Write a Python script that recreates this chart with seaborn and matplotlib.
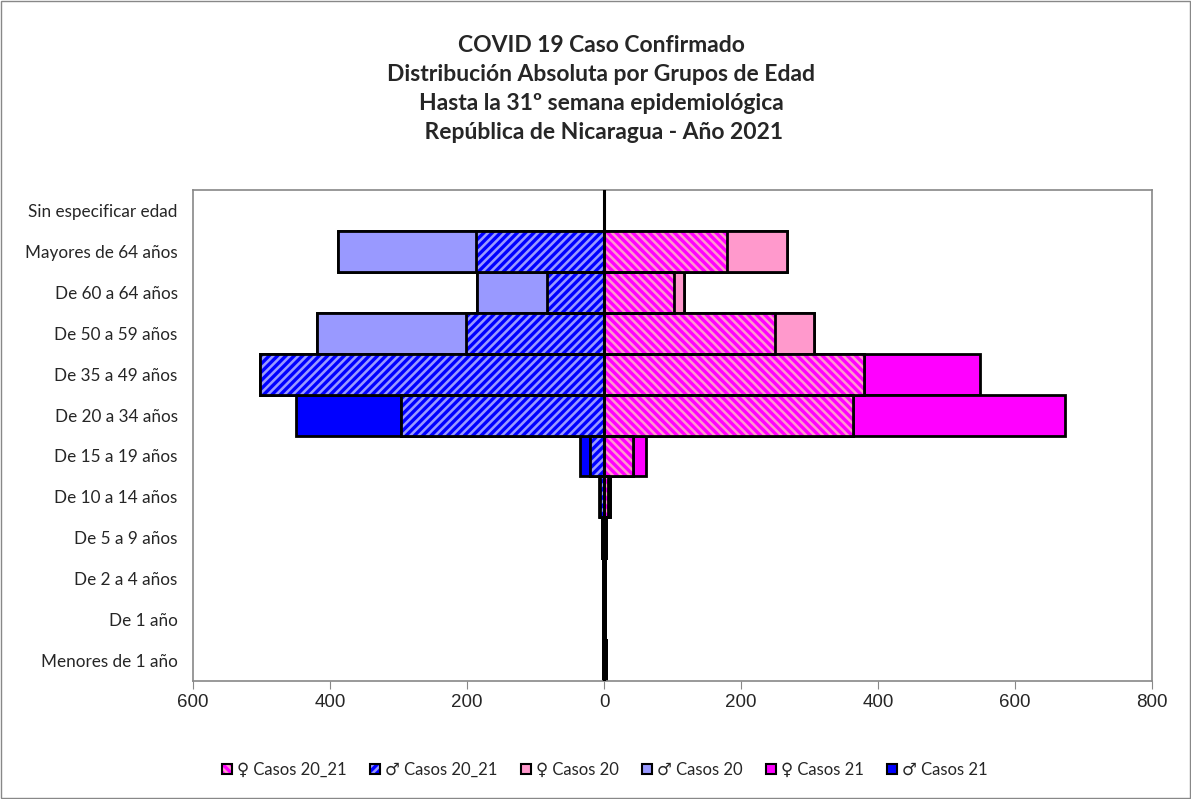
import matplotlib
matplotlib.use("Agg")
import matplotlib.pyplot as plt
import matplotlib.patches as mpatches
import seaborn as sns

age_groups = ["Sin especificar edad", "Mayores de 64 años", "De 60 a 64 años",
              "De 50 a 59 años", "De 35 a 49 años", "De 20 a 34 años",
              "De 15 a 19 años", "De 10 a 14 años", "De 5 a 9 años",
              "De 2 a 4 años", "De 1 año", "Menores de 1 año"]

# stacked segments (men drawn to the left)
fem_20_21 = [0, 179, 102, 250, 379, 363, 42, 6, 3, 2, 2, 3]
mas_20_21 = [0, 187, 83, 202, 502, 296, 21, 6, 3, 2, 1, 2]
fem_20 = [0, 88, 15, 56, 0, 0, 0, 3, 0, 0, 0, 0]
mas_20 = [0, 201, 102, 217, 0, 0, 0, 0, 0, 0, 0, 0]
fem_21 = [0, 0, 0, 0, 170, 310, 19, 0, 0, 0, 0, 0]
mas_21 = [0, 0, 0, 0, 0, 154, 14, 1, 0, 0, 0, 0]

xticks = [-600, -400, -200, 0, 200, 400, 600, 800]

PINK, MAGENTA = "#FF99CC", "#FF00FF"
LBLUE, BLUE = "#9999FF", "#0000FF"
HATCH_F, HATCH_M = "\\\\\\\\", "////"

sns.set_style("white")
plt.rcParams["hatch.linewidth"] = 2.4

fig = plt.figure(figsize=(11.91, 7.99), dpi=100)
ax = fig.add_axes([193 / 1191, 1 - 681 / 799, (1152 - 193) / 1191, (681 - 190) / 799])


def layer(vals, **props):
    n = len(ax.patches)
    sns.barplot(x=vals, y=age_groups, orient="h", width=1.0, errorbar=None,
                color="white", ax=ax)
    for p in ax.patches[n:]:
        p.set(**props)


def add(*lists):
    return [sum(v) for v in zip(*lists)]


for sign, h, c20, c21, light, dark, hatch in [
        (1, fem_20_21, fem_20, fem_21, PINK, MAGENTA, HATCH_F),
        (-1, mas_20_21, mas_20, mas_21, LBLUE, BLUE, HATCH_M)]:
    outer = [sign * v for v in add(h, c20, c21)]
    mid = [sign * v for v in add(h, c20)]
    inner = [sign * v for v in h]
    layer(outer, facecolor=dark, edgecolor="black", linewidth=2)
    layer(mid, facecolor=light, edgecolor="black", linewidth=2)
    layer(inner, facecolor=light, edgecolor=dark, hatch=hatch, linewidth=0)
    layer(inner, facecolor="none", edgecolor="black", linewidth=2)

ax.axvline(0, color="black", lw=2.2, zorder=5)
ax.set_xlim(-600, 800)
ax.set_xticks(xticks)
ax.set_xticklabels([str(abs(t)) for t in xticks], fontsize=13.5,
                   family="Liberation Sans")
ax.tick_params(axis="x", direction="out", length=6, color="#888888", bottom=True)
ax.tick_params(axis="y", length=0, pad=11)
for lab in ax.get_yticklabels():
    lab.set_fontfamily("Lato")
    lab.set_fontsize(12.3)
ax.set_xlabel("")
ax.set_ylabel("")
for s in ax.spines.values():
    s.set_color("#888888")
    s.set_linewidth(1.2)

titles = ["COVID 19 Caso Confirmado", "Distribución Absoluta por Grupos de Edad",
          "Hasta la 31º semana epidemiológica", " República de Nicaragua - Año 2021"]
for i, t in enumerate(titles):
    fig.text(0.505, 1 - (46 + 28.7 * i) / 799, t, ha="center", va="center",
             fontsize=16.5, fontweight="bold", family="Lato")

handles = [
    (mpatches.Patch(facecolor=PINK, edgecolor=MAGENTA, hatch=HATCH_F, lw=0),
     mpatches.Patch(facecolor="none", edgecolor="black", lw=1.5)),
    (mpatches.Patch(facecolor=LBLUE, edgecolor=BLUE, hatch=HATCH_M, lw=0),
     mpatches.Patch(facecolor="none", edgecolor="black", lw=1.5)),
    mpatches.Patch(facecolor=PINK, edgecolor="black", lw=1.5),
    mpatches.Patch(facecolor=LBLUE, edgecolor="black", lw=1.5),
    mpatches.Patch(facecolor=MAGENTA, edgecolor="black", lw=1.5),
    mpatches.Patch(facecolor=BLUE, edgecolor="black", lw=1.5),
]
labels = ["♀ Casos 20_21", "♂ Casos 20_21", "♀ Casos 20", "♂ Casos 20",
          "♀ Casos 21", "♂ Casos 21"]
fig.legend(handles, labels, loc="center", bbox_to_anchor=(0.508, 1 - 770 / 799),
           ncol=6, frameon=False, handlelength=0.6, handleheight=0.6,
           handletextpad=0.3, columnspacing=1.4,
           prop={"family": ["Lato", "DejaVu Sans"], "size": 12})

fig.patches.append(mpatches.Rectangle((0.001, 0.001), 0.998, 0.998,
                                      transform=fig.transFigure, fill=False,
                                      edgecolor="#888888", lw=1))

fig.savefig("out.png", dpi=100)
